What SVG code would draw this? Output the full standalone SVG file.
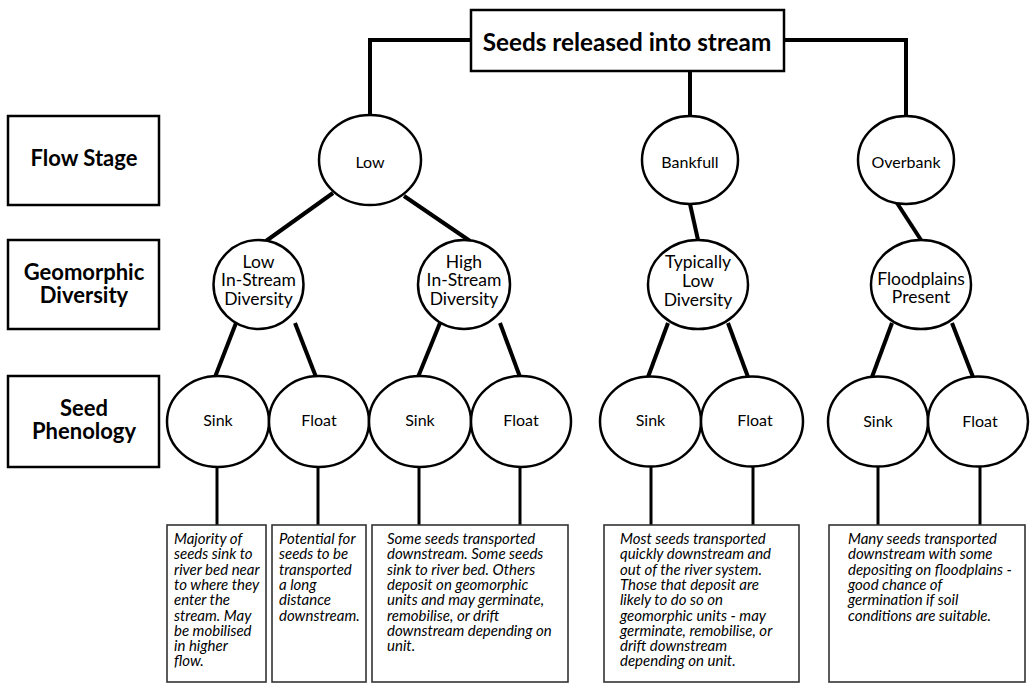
<svg xmlns="http://www.w3.org/2000/svg" width="1031" height="684" viewBox="0 0 1031 684">
<style>
.bg{fill:#fff}
.box{fill:#fff;stroke:#000;stroke-width:2.5}
.dbox{fill:#fff;stroke:#333;stroke-width:1.6}
.node{fill:#fff;stroke:#000;stroke-width:2.5}
.c{fill:none;stroke:#000;stroke-width:4;stroke-linecap:butt}
.c2{fill:none;stroke:#000;stroke-width:3}
text{font-family:Lato,"Liberation Sans",sans-serif;fill:#000}
.t{font-size:24.3px;font-weight:bold;text-anchor:middle}
.lab{font-size:22px;font-weight:bold;text-anchor:middle}
.n{font-size:16px;text-anchor:middle}
.g{font-size:17.5px;text-anchor:middle}
.d{font-size:15px;font-style:italic}
</style>
<rect class="bg" x="0" y="0" width="1031" height="684"/>
<g id="connectors">
<polyline class="c" points="471,40 370,40 370,116"/>
<polyline class="c" points="784,40 906,40 906,116"/>
<line class="c" x1="690" y1="71" x2="690" y2="116"/>
<line class="c" x1="333" y1="193" x2="266" y2="241"/>
<line class="c" x1="404" y1="196" x2="470" y2="241"/>
<line class="c" x1="690" y1="204" x2="698" y2="240"/>
<line class="c" x1="897" y1="203" x2="921" y2="240"/>
<line class="c" x1="236" y1="323" x2="215" y2="377"/>
<line class="c" x1="295" y1="323" x2="316" y2="377"/>
<line class="c" x1="440" y1="323" x2="418" y2="377"/>
<line class="c" x1="500" y1="323" x2="520" y2="377"/>
<line class="c" x1="668" y1="323" x2="648" y2="377"/>
<line class="c" x1="728" y1="323" x2="748" y2="377"/>
<line class="c" x1="892" y1="323" x2="872" y2="377"/>
<line class="c" x1="952" y1="323" x2="973" y2="377"/>
<line class="c2" x1="217" y1="466" x2="217" y2="526"/>
<line class="c2" x1="318" y1="466" x2="318" y2="526"/>
<line class="c2" x1="419" y1="466" x2="419" y2="526"/>
<line class="c2" x1="520" y1="466" x2="520" y2="526"/>
<line class="c2" x1="651" y1="466" x2="651" y2="526"/>
<line class="c2" x1="753" y1="466" x2="753" y2="526"/>
<line class="c2" x1="878" y1="466" x2="878" y2="526"/>
<line class="c2" x1="980" y1="466" x2="980" y2="526"/>
</g>
<g id="root"><rect class="box" x="471" y="10" width="313" height="61"/><text class="t" x="627" y="51">Seeds released into stream</text></g>
<g id="lab-flow"><rect class="box" x="8" y="116" width="151" height="89"/><text class="lab" x="84" y="166">Flow Stage</text></g>
<g id="lab-geo"><rect class="box" x="8" y="240" width="151" height="89"/><text class="lab" x="84" y="280">Geomorphic</text><text class="lab" x="84" y="303">Diversity</text></g>
<g id="lab-seed"><rect class="box" x="8" y="376" width="151" height="91"/><text class="lab" x="84" y="416">Seed</text><text class="lab" x="84" y="439">Phenology</text></g>
<g id="n-low"><ellipse class="node" cx="370" cy="160" rx="51" ry="45"/><text class="n" x="370" y="168">Low</text></g>
<g id="n-bankfull"><ellipse class="node" cx="690" cy="160" rx="48" ry="44"/><text class="n" x="690" y="168">Bankfull</text></g>
<g id="n-overbank"><ellipse class="node" cx="906" cy="160" rx="48" ry="44"/><text class="n" x="906" y="168">Overbank</text></g>
<g id="n-lowdiv"><ellipse class="node" cx="258.5" cy="284.5" rx="45" ry="44.5"/><text class="g" x="258.5" y="268">Low</text><text class="g" x="258.5" y="286">In-Stream</text><text class="g" x="258.5" y="305">Diversity</text></g>
<g id="n-highdiv"><ellipse class="node" cx="464" cy="284.5" rx="46" ry="44.5"/><text class="g" x="464" y="268">High</text><text class="g" x="464" y="286">In-Stream</text><text class="g" x="464" y="305">Diversity</text></g>
<g id="n-typlow"><ellipse class="node" cx="698" cy="284.5" rx="50" ry="44.5"/><text class="g" x="698" y="268">Typically</text><text class="g" x="698" y="287">Low</text><text class="g" x="698" y="306">Diversity</text></g>
<g id="n-flood"><ellipse class="node" cx="921" cy="284.5" rx="50" ry="44.5"/><text class="g" x="921" y="285">Floodplains</text><text class="g" x="921" y="303">Present</text></g>
<g id="s1"><ellipse class="node" cx="218" cy="421.5" rx="51" ry="45.5"/><text class="n" x="218" y="426">Sink</text></g>
<g id="f1"><ellipse class="node" cx="319" cy="421.5" rx="50" ry="45.5"/><text class="n" x="319" y="426">Float</text></g>
<g id="s2"><ellipse class="node" cx="420" cy="421.5" rx="51" ry="45.5"/><text class="n" x="420" y="426">Sink</text></g>
<g id="f2"><ellipse class="node" cx="521" cy="421.5" rx="50" ry="45.5"/><text class="n" x="521" y="426">Float</text></g>
<g id="s3"><ellipse class="node" cx="650.5" cy="421.5" rx="50.5" ry="45"/><text class="n" x="650.5" y="426">Sink</text></g>
<g id="f3"><ellipse class="node" cx="752" cy="421.5" rx="51" ry="45"/><text class="n" x="755" y="426">Float</text></g>
<g id="s4"><ellipse class="node" cx="878" cy="421.5" rx="50" ry="45"/><text class="n" x="878" y="427">Sink</text></g>
<g id="f4"><ellipse class="node" cx="978" cy="421.5" rx="50" ry="45"/><text class="n" x="980" y="427">Float</text></g>
<g id="d1"><rect class="dbox" x="167" y="525" width="99" height="157"/>
<text class="d"><tspan x="174" y="544">Majority of</tspan><tspan x="174" y="559.3">seeds sink to</tspan><tspan x="174" y="574.6">river bed near</tspan><tspan x="174" y="589.9">to where they</tspan><tspan x="174" y="605.2">enter the</tspan><tspan x="174" y="620.5">stream. May</tspan><tspan x="174" y="635.8">be mobilised</tspan><tspan x="174" y="651.1">in higher</tspan><tspan x="174" y="666.4">flow.</tspan></text></g>
<g id="d2"><rect class="dbox" x="272" y="525" width="94" height="157"/>
<text class="d"><tspan x="279" y="544">Potential for</tspan><tspan x="279" y="559.3">seeds to be</tspan><tspan x="279" y="574.6">transported</tspan><tspan x="279" y="589.9">a long</tspan><tspan x="279" y="605.2">distance</tspan><tspan x="279" y="620.5">downstream.</tspan></text></g>
<g id="d3"><rect class="dbox" x="372" y="525" width="196" height="157"/>
<text class="d"><tspan x="387" y="544">Some seeds transported</tspan><tspan x="387" y="559.3">downstream. Some seeds</tspan><tspan x="387" y="574.6">sink to river bed. Others</tspan><tspan x="387" y="589.9">deposit on geomorphic</tspan><tspan x="387" y="605.2">units and may germinate,</tspan><tspan x="387" y="620.5">remobilise, or drift</tspan><tspan x="387" y="635.8">downstream depending on</tspan><tspan x="387" y="651.1">unit.</tspan></text></g>
<g id="d4"><rect class="dbox" x="604" y="525" width="195" height="157"/>
<text class="d"><tspan x="620" y="544">Most seeds transported</tspan><tspan x="620" y="559.3">quickly downstream and</tspan><tspan x="620" y="574.6">out of the river system.</tspan><tspan x="620" y="589.9">Those that deposit are</tspan><tspan x="620" y="605.2">likely to do so on</tspan><tspan x="620" y="620.5">geomorphic units - may</tspan><tspan x="620" y="635.8">germinate, remobilise, or</tspan><tspan x="620" y="651.1">drift downstream</tspan><tspan x="620" y="666.4">depending on unit.</tspan></text></g>
<g id="d5"><rect class="dbox" x="829" y="525" width="196" height="157"/>
<text class="d"><tspan x="848" y="544">Many seeds transported</tspan><tspan x="848" y="559.3">downstream with some</tspan><tspan x="848" y="574.6">depositing on floodplains -</tspan><tspan x="848" y="589.9">good chance of</tspan><tspan x="848" y="605.2">germination if soil</tspan><tspan x="848" y="620.5">conditions are suitable.</tspan></text></g>
</svg>
